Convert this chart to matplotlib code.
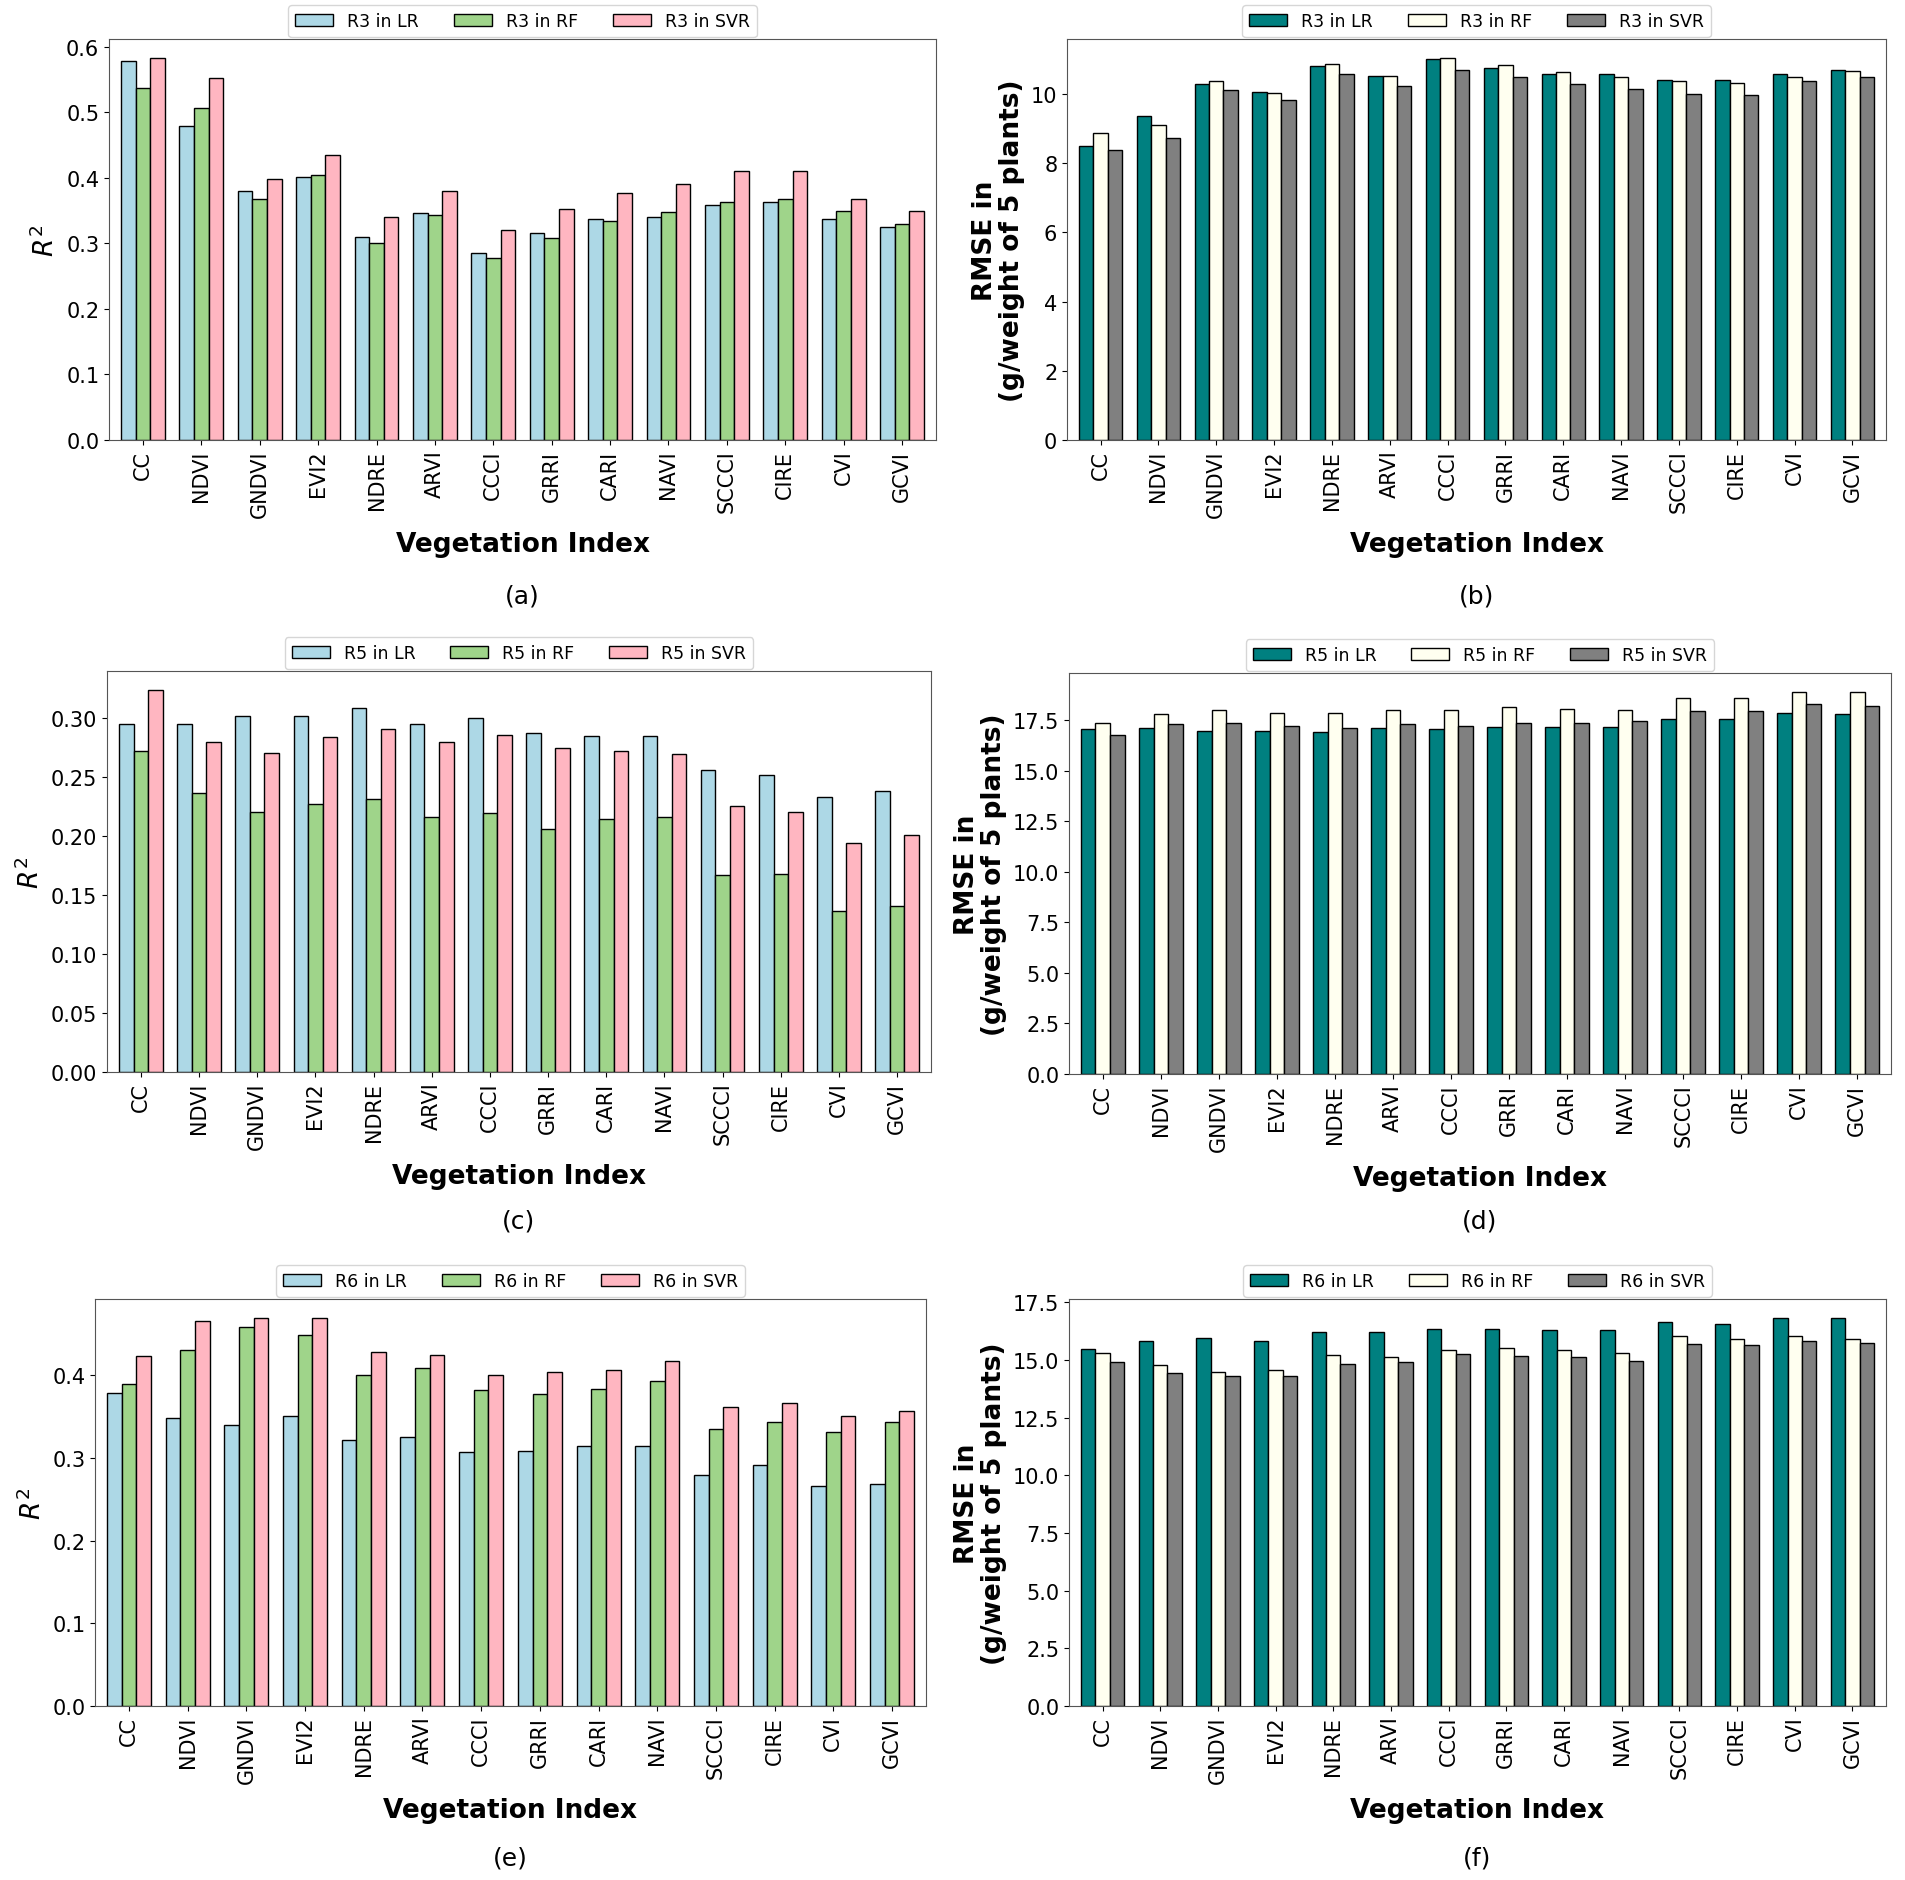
import matplotlib
matplotlib.use("Agg")
import matplotlib.pyplot as plt
from matplotlib.ticker import MultipleLocator
import numpy as np

indices = ["CC", "NDVI", "GNDVI", "EVI2", "NDRE", "ARVI", "CCCI", "GRRI",
           "CARI", "NAVI", "SCCCI", "CIRE", "CVI", "GCVI"]

# (a) R3 R^2
r3_r2_lr = [0.578, 0.480, 0.380, 0.402, 0.310, 0.346, 0.285, 0.316, 0.337, 0.341, 0.359, 0.364, 0.337, 0.325]
r3_r2_rf = [0.538, 0.507, 0.368, 0.405, 0.300, 0.343, 0.278, 0.309, 0.334, 0.348, 0.364, 0.368, 0.350, 0.330]
r3_r2_svr = [0.583, 0.552, 0.399, 0.435, 0.341, 0.380, 0.321, 0.353, 0.377, 0.391, 0.410, 0.411, 0.368, 0.350]

# (b) R3 RMSE
r3_rmse_lr = [8.48, 9.37, 10.27, 10.06, 10.81, 10.51, 11.00, 10.74, 10.57, 10.57, 10.40, 10.40, 10.57, 10.69]
r3_rmse_rf = [8.87, 9.11, 10.37, 10.01, 10.87, 10.51, 11.03, 10.83, 10.62, 10.48, 10.36, 10.32, 10.48, 10.66]
r3_rmse_svr = [8.37, 8.72, 10.11, 9.81, 10.57, 10.22, 10.69, 10.48, 10.27, 10.13, 10.00, 9.97, 10.36, 10.47]

# (c) R5 R^2
r5_r2_lr = [0.295, 0.295, 0.302, 0.302, 0.309, 0.295, 0.300, 0.288, 0.285, 0.285, 0.256, 0.252, 0.233, 0.238]
r5_r2_rf = [0.272, 0.237, 0.221, 0.227, 0.232, 0.216, 0.220, 0.206, 0.215, 0.216, 0.167, 0.168, 0.137, 0.141]
r5_r2_svr = [0.324, 0.280, 0.271, 0.284, 0.291, 0.280, 0.286, 0.275, 0.272, 0.270, 0.226, 0.221, 0.194, 0.201]

# (d) R5 RMSE
r5_rmse_lr = [17.06, 17.12, 16.99, 16.99, 16.91, 17.12, 17.06, 17.18, 17.18, 17.18, 17.58, 17.58, 17.88, 17.79]
r5_rmse_rf = [17.37, 17.79, 17.98, 17.88, 17.88, 18.01, 18.01, 18.17, 18.07, 18.01, 18.58, 18.58, 18.89, 18.89]
r5_rmse_svr = [16.78, 17.29, 17.35, 17.21, 17.12, 17.31, 17.21, 17.35, 17.35, 17.44, 17.96, 17.96, 18.30, 18.22]

# (e) R6 R^2
r6_r2_lr = [0.379, 0.349, 0.340, 0.351, 0.322, 0.325, 0.307, 0.309, 0.315, 0.315, 0.280, 0.291, 0.266, 0.269]
r6_r2_rf = [0.390, 0.431, 0.458, 0.449, 0.400, 0.409, 0.382, 0.378, 0.384, 0.393, 0.335, 0.344, 0.331, 0.344]
r6_r2_svr = [0.423, 0.466, 0.469, 0.469, 0.428, 0.425, 0.400, 0.404, 0.407, 0.418, 0.362, 0.367, 0.351, 0.357]

# (f) R6 RMSE
r6_rmse_lr = [15.49, 15.84, 15.96, 15.84, 16.20, 16.20, 16.36, 16.36, 16.29, 16.29, 16.67, 16.55, 16.81, 16.81]
r6_rmse_rf = [15.32, 14.80, 14.49, 14.59, 15.22, 15.15, 15.46, 15.51, 15.46, 15.32, 16.03, 15.93, 16.03, 15.93]
r6_rmse_svr = [14.94, 14.42, 14.33, 14.33, 14.85, 14.92, 15.25, 15.20, 15.13, 14.97, 15.72, 15.65, 15.84, 15.75]

r2_colors = ["#add8e6", "#9fd48a", "#ffb6c1"]
rmse_colors = ["#008080", "#fffff0", "#808080"]

panels = [
    ("R3", "r2", (r3_r2_lr, r3_r2_rf, r3_r2_svr), "(a)", [109, 40, 936, 441], None),
    ("R3", "rmse", (r3_rmse_lr, r3_rmse_rf, r3_rmse_svr), "(b)", [1067, 40, 1886, 441], 2),
    ("R5", "r2", (r5_r2_lr, r5_r2_rf, r5_r2_svr), "(c)", [107, 672, 931, 1073], None),
    ("R5", "rmse", (r5_rmse_lr, r5_rmse_rf, r5_rmse_svr), "(d)", [1069, 674, 1891, 1075], 2.5),
    ("R6", "r2", (r6_r2_lr, r6_r2_rf, r6_r2_svr), "(e)", [95, 1300, 926, 1707], None),
    ("R6", "rmse", (r6_rmse_lr, r6_rmse_rf, r6_rmse_svr), "(f)", [1069, 1300, 1886, 1707], 2.5),
]
label_y = {"(a)": 597, "(b)": 597, "(c)": 1222, "(d)": 1222, "(e)": 1859, "(f)": 1859}

W, H = 1905, 1881
fig = plt.figure(figsize=(W / 100, H / 100), dpi=100)

models = ["LR", "RF", "SVR"]
width = 0.25
x = np.arange(len(indices))

for stage, kind, series, tag, (l, t, r, b), ystep in panels:
    ax = fig.add_axes([l / W, 1 - b / H, (r - l) / W, (b - t) / H])
    colors = r2_colors if kind == "r2" else rmse_colors
    for i, (vals, c, m) in enumerate(zip(series, colors, models)):
        ax.bar(x + (i - 1) * width, vals, width, color=c, edgecolor="black",
               linewidth=1.0, label=f"{stage} in {m}")
    ax.set_xticks(x)
    ax.set_xticklabels(indices, rotation=90, fontsize=15)
    ax.tick_params(axis="y", labelsize=15)
    if ystep is not None:
        ax.yaxis.set_major_locator(MultipleLocator(ystep))
    ax.margins(x=0.015)
    ax.set_xlabel("Vegetation Index", fontsize=19, fontweight="bold", labelpad=10)
    if kind == "r2":
        ax.set_ylabel(r"$R^2$", fontsize=19)
    else:
        ax.set_ylabel("RMSE in\n(g/weight of 5 plants)", fontsize=19,
                      fontweight="bold", linespacing=1.05)
    for s in ax.spines.values():
        s.set_color("#555555")
    ax.legend(loc="lower center", bbox_to_anchor=(0.5, 1.005), ncol=3,
              fontsize=12.5, frameon=True, borderaxespad=0, handlelength=2.2,
              columnspacing=2.0)
    fig.text(((l + r) / 2) / W, 1 - label_y[tag] / H, tag, fontsize=18,
             ha="center", va="center")

fig.savefig("out.png", dpi=100)
